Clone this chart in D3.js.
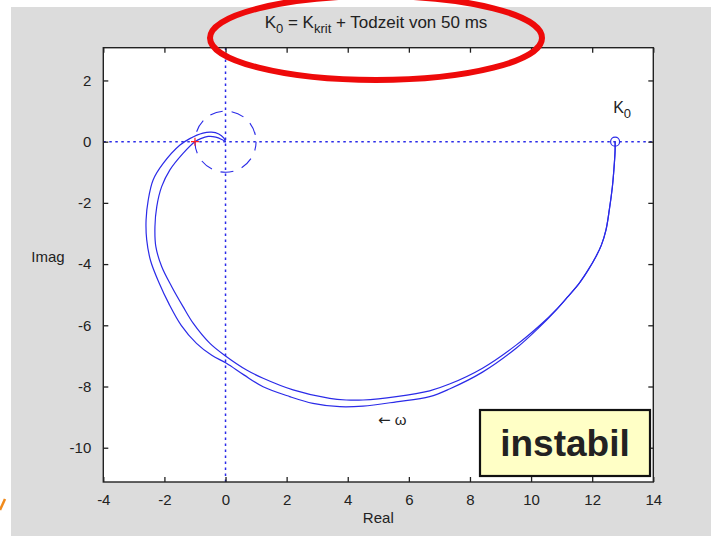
<!DOCTYPE html>
<html>
<head>
<meta charset="utf-8">
<script src="https://cdn.jsdelivr.net/npm/d3@7"></script>
<style>
  html, body { margin: 0; padding: 0; background: #fff; }
  svg { display: block; }
  text { font-family: "Liberation Sans", Arial, sans-serif; fill: #222; }
</style>
</head>
<body>
<svg id="chart" width="711" height="536"></svg>
<script>
// Nyquist curves (real, imag)
const curveUnstableRe = [12.75, 12.75, 12.71, 12.66, 12.56, 12.45, 12.30, 12.12, 11.87, 11.58, 11.19, 10.82,
  10.24, 9.52, 8.41, 7.33, 6.68, 5.59, 4.50, 3.74, 2.86, 2.10, 1.23, 0.60, 0.03, -0.45, -0.95, -1.45,
  -1.85, -2.18, -2.45, -2.58, -2.60, -2.53, -2.37, -2.04, -1.49, -1.17, -0.74, -0.46, -0.22, -0.06, 0]
const curveUnstableIm = [0, -0.27, -0.92, -1.48, -2.23, -2.89, -3.38, -3.76, -4.19, -4.62, -5.08, -5.50,
  -6.09, -6.74, -7.53, -8.08, -8.33, -8.50, -8.64, -8.66, -8.55, -8.33, -8.01, -7.62, -7.24, -6.98, -6.59, -6.00,
  -5.30, -4.60, -3.90, -3.20, -2.56, -1.91, -1.25, -0.71, -0.11, 0.10, 0.28, 0.31, 0.25, 0.12, 0]

const curveCritRe = [12.75, 12.75, 12.71, 12.66, 12.56, 12.45, 12.30, 12.12, 11.87, 11.58, 11.19, 10.84,
  10.30, 9.52, 8.41, 7.33, 6.68, 5.59, 4.50, 3.95, 3.41, 2.21, 1.23, 0.69, 0.00, -0.51, -1.06, -1.39,
  -1.76, -2.09, -2.28, -2.31, -2.25, -2.09, -1.82, -1.39, -1.00, -0.81, -0.57, -0.32, -0.12, 0]
const curveCritIm = [0, -0.27, -0.92, -1.48, -2.23, -2.89, -3.38, -3.76, -4.19, -4.62, -5.08, -5.47,
  -5.99, -6.64, -7.40, -7.92, -8.14, -8.33, -8.44, -8.44, -8.39, -8.11, -7.73, -7.46, -7.00, -6.59, -5.93, -5.39,
  -4.74, -4.08, -3.43, -2.78, -2.12, -1.47, -0.92, -0.38, 0, 0.10, 0.17, 0.15, 0.07, 0]

const xTicks = [-4, -2, 0, 2, 4, 6, 8, 10, 12, 14]
const yTicks = [-10, -8, -6, -4, -2, 0, 2]
const startPoint = [12.75, 0]
const critPoint = [-1, 0]

const blue = '#2b2be8'
const svg = d3.select('#chart')

// slide background
svg.append('rect').attr('x', 11).attr('y', 7).attr('width', 700).attr('height', 529).attr('fill', '#dcdcdc')
svg.append('path').attr('d', 'M0,510 L5,499').attr('stroke', '#f08a1c').attr('stroke-width', 2.5)

const x = d3.scaleLinear().domain([-4, 14]).range([103.3, 653.3])
const y = d3.scaleLinear().domain([-11.12, 3.07]).range([482, 47.7])

const [x0, x1] = x.range()
const [y0, y1] = y.range()

svg.append('rect')
  .attr('x', x0).attr('y', y1)
  .attr('width', x1 - x0).attr('height', y0 - y1)
  .attr('fill', '#fff')

const plot = svg.append('g')

// dotted zero axes
plot.append('line')
  .attr('x1', x0).attr('x2', x1).attr('y1', y(0)).attr('y2', y(0))
  .attr('stroke', blue).attr('stroke-width', 1.5).attr('stroke-dasharray', '2.5,3.5')
plot.append('line')
  .attr('x1', x(0)).attr('x2', x(0)).attr('y1', y0).attr('y2', y1)
  .attr('stroke', blue).attr('stroke-width', 1.5).attr('stroke-dasharray', '2.5,3.5')

// unit circle
plot.append('ellipse')
  .attr('cx', x(0)).attr('cy', y(0))
  .attr('rx', x(1) - x(0)).attr('ry', y(0) - y(1))
  .attr('fill', 'none').attr('stroke', blue).attr('stroke-width', 1.1)
  .attr('stroke-dasharray', '13,9').attr('stroke-dashoffset', 4)

const line = d3.line()
  .x(d => x(d[0]))
  .y(d => y(d[1]))
  .curve(d3.curveCatmullRom.alpha(0.5))

const curves = [
  d3.zip(curveUnstableRe, curveUnstableIm),
  d3.zip(curveCritRe, curveCritIm),
]

plot.selectAll('path.nyq')
  .data(curves)
  .enter()
  .append('path')
    .attr('class', 'nyq')
    .attr('d', line)
    .attr('fill', 'none')
    .attr('stroke', blue)
    .attr('stroke-width', 1.2)

// start marker
plot.append('circle')
  .attr('cx', x(startPoint[0])).attr('cy', y(startPoint[1])).attr('r', 4.5)
  .attr('fill', 'none').attr('stroke', blue).attr('stroke-width', 1.2)

// critical point -1
const cx = x(critPoint[0]), cy = y(critPoint[1])
plot.append('path')
  .attr('d', `M${cx - 4},${cy} H${cx + 4} M${cx},${cy - 4} V${cy + 4}`)
  .attr('stroke', '#ff2020').attr('stroke-width', 1.2)

// box + inward ticks
const tick = 5
const fmt = d => String(d)
svg.append('g')
  .attr('transform', `translate(0,${y0})`)
  .call(d3.axisBottom(x).tickValues(xTicks).tickFormat(fmt).tickSizeInner(-tick).tickSizeOuter(0).tickPadding(12))
svg.append('g')
  .attr('transform', `translate(0,${y1})`)
  .call(d3.axisTop(x).tickValues(xTicks).tickSizeInner(-tick).tickSizeOuter(0).tickFormat(''))
svg.append('g')
  .attr('transform', `translate(${x0},0)`)
  .call(d3.axisLeft(y).tickValues(yTicks).tickFormat(fmt).tickSizeInner(-tick).tickSizeOuter(0).tickPadding(12))
svg.append('g')
  .attr('transform', `translate(${x1},0)`)
  .call(d3.axisRight(y).tickValues(yTicks).tickSizeInner(-tick).tickSizeOuter(0).tickFormat(''))

svg.selectAll('.domain').remove()
svg.selectAll('.tick line').attr('stroke', '#222').attr('stroke-width', 1.3)
svg.selectAll('.tick text').attr('font-size', 15).attr('fill', '#222')
  .attr('font-family', '"Liberation Sans", Arial, sans-serif')

svg.append('rect')
  .attr('x', x0).attr('y', y1)
  .attr('width', x1 - x0).attr('height', y0 - y1)
  .attr('fill', 'none').attr('stroke', '#222').attr('stroke-width', 1.4)

// labels
svg.append('text').attr('x', (x0 + x1) / 2).attr('y', 523)
  .attr('text-anchor', 'middle').attr('font-size', 15).text('Real')
svg.append('text').attr('x', 48).attr('y', 262)
  .attr('text-anchor', 'middle').attr('font-size', 15).text('Imag')

const title = svg.append('text')
  .attr('x', 376).attr('y', 28)
  .attr('text-anchor', 'middle').attr('font-size', 17)
title.append('tspan').text('K')
title.append('tspan').attr('dy', 5).attr('font-size', 13).text('0')
title.append('tspan').attr('dy', -5).text(' = K')
title.append('tspan').attr('dy', 5).attr('font-size', 13).text('krit')
title.append('tspan').attr('dy', -5).text(' + Todzeit von 50 ms')

const k0 = svg.append('text')
  .attr('x', x(startPoint[0]) + 7).attr('y', 113)
  .attr('text-anchor', 'middle').attr('font-size', 16)
k0.append('tspan').text('K')
k0.append('tspan').attr('dy', 5).attr('font-size', 13).text('0')

const omega = svg.append('text').attr('x', 378).attr('y', 425).attr('font-size', 15)
omega.append('tspan').attr('font-family', '"DejaVu Sans", sans-serif').text('\u2190')
omega.append('tspan').text(' \u03c9')

// "instabil" box
svg.append('rect')
  .attr('x', 480).attr('y', 410).attr('width', 170).attr('height', 66)
  .attr('fill', '#ffffc6').attr('stroke', '#111').attr('stroke-width', 2.2)
svg.append('text')
  .attr('x', 565).attr('y', 456)
  .attr('text-anchor', 'middle').attr('font-size', 37).attr('font-weight', 'bold')
  .attr('fill', '#000').text('instabil')

// red highlight ellipse around the title
svg.append('ellipse')
  .attr('cx', 376).attr('cy', 38).attr('rx', 166).attr('ry', 42)
  .attr('fill', 'none').attr('stroke', '#ee0a0a').attr('stroke-width', 6)
</script>
</body>
</html>
